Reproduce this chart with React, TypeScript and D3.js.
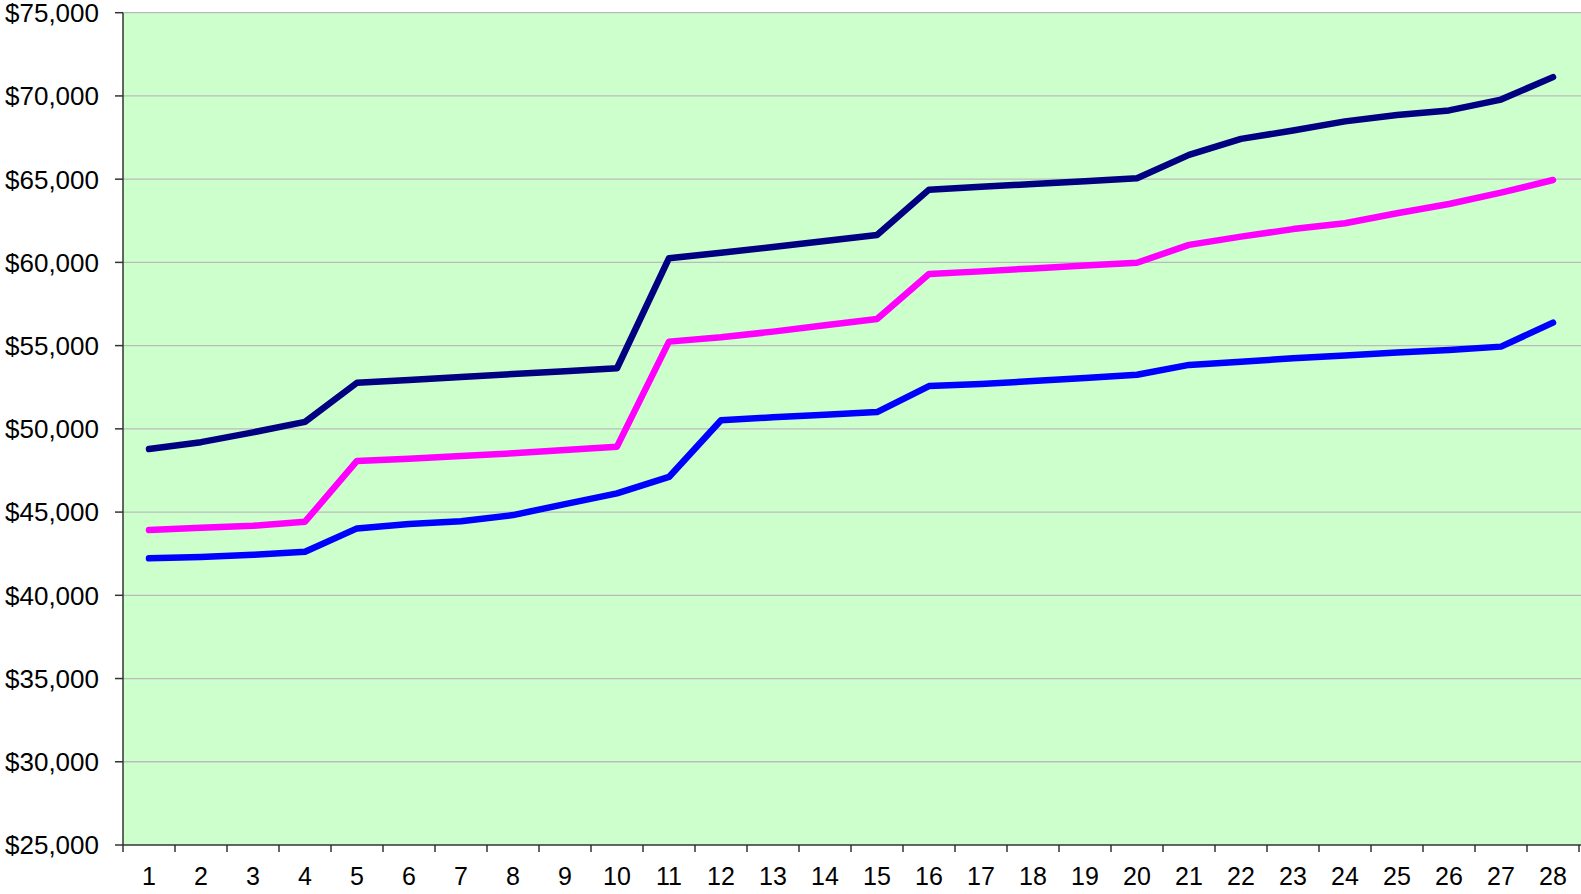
import * as d3 from 'd3';

const categories = d3.range(1, 29).map(String);

const navySeries = [
  48790, 49200, 49790, 50420, 52770, 52940, 53120, 53290, 53460, 53640,
  60250, 60580, 60920, 61280, 61650, 64370, 64540, 64710, 64880, 65060,
  66460, 67420, 67920, 68470, 68850, 69130, 69780, 71130,
];
const pinkSeries = [
  43920, 44060, 44180, 44420, 48070, 48210, 48370, 48530, 48730, 48930,
  55240, 55500, 55840, 56220, 56600, 59300, 59460, 59640, 59820, 59980,
  61050, 61550, 62000, 62350, 62950, 63510, 64190, 64950,
];
const blueSeries = [
  42220, 42300, 42430, 42620, 44020, 44290, 44450, 44820, 45480, 46120,
  47110, 50520, 50690, 50840, 51010, 52570, 52700, 52870, 53050, 53250,
  53840, 54030, 54240, 54400, 54580, 54740, 54940, 56380,
];
const yTicks = [25000, 30000, 35000, 40000, 45000, 50000, 55000, 60000, 65000, 70000, 75000];

const series = [
  {name: 'navy', color: '#000080', values: navySeries},
  {name: 'pink', color: '#FF00FF', values: pinkSeries},
  {name: 'blue', color: '#0000FF', values: blueSeries},
];

const width = 1581;
const height = 894;
const left = 123;
const right = 1579;
const top = 12.7;
const bottom = 845;

export default function App() {
  const x = d3.scaleBand().domain(categories).range([left, right]);
  const y = d3.scaleLinear().domain([25000, 75000]).range([bottom, top]);
  const fmt = (v: number) => '$' + d3.format(',')(v);

  const line = d3
    .line<number>()
    .x((_, i) => (x(categories[i]) as number) + x.bandwidth() / 2)
    .y((d) => y(d));

  const font = '"Liberation Sans", Arial, sans-serif';

  return (
    <svg
      width={width}
      height={height}
      style={{position: 'absolute', left: 0, top: 0}}
      fontFamily={font}
    >
      <rect x={left} y={top} width={right - left + 2} height={bottom - top} fill="#CCFFCC" />
      {yTicks.map((t) => (
        <g key={t}>
          {t > 25000 && (
            <line x1={left} x2={width} y1={y(t)} y2={y(t)} stroke="#BBBBBB" strokeWidth={1.3} />
          )}
          <line x1={left - 8} x2={left} y1={y(t)} y2={y(t)} stroke="#333" strokeWidth={1.5} />
          <text x={99} y={y(t)} dy="0.36em" textAnchor="end" fontSize={26} fill="#000">
            {fmt(t)}
          </text>
        </g>
      ))}
      <line x1={left} x2={left} y1={top} y2={bottom} stroke="#333" strokeWidth={1.5} />
      <line x1={left} x2={width} y1={bottom} y2={bottom} stroke="#333" strokeWidth={1.5} />
      {categories.map((c, i) => (
        <g key={c}>
          <line
            x1={(x(c) as number) + x.bandwidth()}
            x2={(x(c) as number) + x.bandwidth()}
            y1={bottom}
            y2={bottom + 7}
            stroke="#333"
            strokeWidth={1.5}
          />
          {i === 0 && (
            <line x1={left} x2={left} y1={bottom} y2={bottom + 7} stroke="#333" strokeWidth={1.5} />
          )}
          <text
            x={(x(c) as number) + x.bandwidth() / 2}
            y={885}
            textAnchor="middle"
            fontSize={25}
            fill="#000"
          >
            {c}
          </text>
        </g>
      ))}
      {series.map((s) => (
        <path
          key={s.name}
          d={line(s.values) as string}
          fill="none"
          stroke={s.color}
          strokeWidth={6.5}
          strokeLinecap="round"
          strokeLinejoin="round"
        />
      ))}
    </svg>
  );
}
